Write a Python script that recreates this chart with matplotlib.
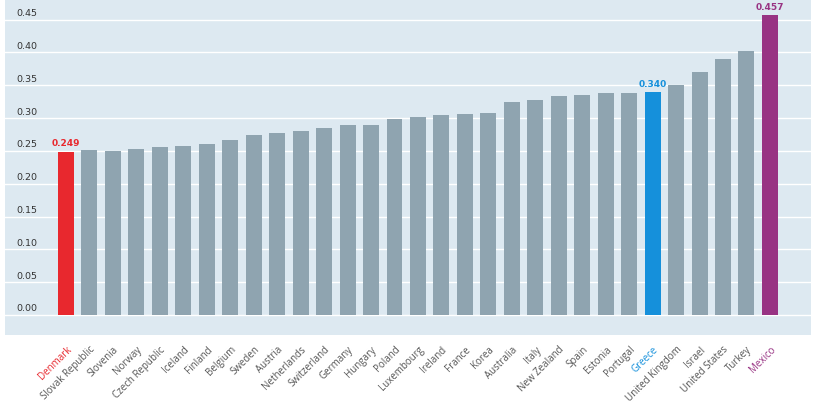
import matplotlib
matplotlib.use("Agg")
import matplotlib.pyplot as plt
from matplotlib.transforms import blended_transform_factory, offset_copy

countries = ["Denmark", "Slovak Republic", "Slovenia", "Norway", "Czech Republic",
             "Iceland", "Finland", "Belgium", "Sweden", "Austria", "Netherlands",
             "Switzerland", "Germany", "Hungary", "Poland", "Luxembourg", "Ireland",
             "France", "Korea", "Australia", "Italy", "New Zealand", "Spain",
             "Estonia", "Portugal", "Greece", "United Kingdom", "Israel",
             "United States", "Turkey", "Mexico"]
values = [0.249, 0.251, 0.250, 0.253, 0.256, 0.257, 0.260, 0.267, 0.274, 0.277,
          0.281, 0.285, 0.289, 0.289, 0.298, 0.302, 0.304, 0.306, 0.307, 0.324,
          0.327, 0.333, 0.335, 0.338, 0.338, 0.340, 0.351, 0.371, 0.390, 0.402,
          0.457]
highlight = {"Denmark": "#e8282e", "Greece": "#1590db", "Mexico": "#983383"}
labelled = ["Denmark", "Greece", "Mexico"]
yticks = [0.00, 0.05, 0.10, 0.15, 0.20, 0.25, 0.30, 0.35, 0.40, 0.45]

BAR = "#8fa4b0"
BG = "#dde9f1"

fig = plt.figure(figsize=(8.36, 4.06), dpi=100)
ax = fig.add_axes([5/836, 1 - 336/406, 806/836, 336/406])
ax.set_facecolor(BG)
for s in ax.spines.values():
    s.set_visible(False)

x = list(range(len(countries)))
colors = [highlight.get(c, BAR) for c in countries]
ax.bar(x, values, width=0.68, color=colors, zorder=3)

ax.set_xlim(-2.6, len(countries) - 1 + 1.75)
ax.set_ylim(-0.0306, 0.4815)

for t in yticks:
    ax.axhline(t, color="white", lw=1.0, zorder=1)

trans = blended_transform_factory(ax.transAxes, ax.transData)
trans = offset_copy(trans, fig=fig, x=0, y=2.5, units="dots")
for t in yticks:
    ax.text(0.0136, t, f"{t:.2f}", transform=trans, ha="left", va="bottom",
            fontsize=6.8, color="#333333", family="DejaVu Sans")

ax.set_yticks([])
ax.set_xticks(x)
ax.set_xticklabels(countries, rotation=45, ha="right", va="top",
                   rotation_mode="anchor", fontsize=7, family="Open Sans")
ax.tick_params(axis="x", length=0, pad=6)
for lab, c in zip(ax.get_xticklabels(), countries):
    lab.set_color(highlight.get(c, "#555555"))

for c in labelled:
    i = countries.index(c)
    ax.annotate(f"{values[i]:.3f}", (i, values[i]), xytext=(0, 3),
                textcoords="offset points", ha="center", va="bottom",
                fontsize=6.5, fontweight="bold", color=highlight[c],
                family="DejaVu Sans")

fig.savefig("out.png", dpi=100)
